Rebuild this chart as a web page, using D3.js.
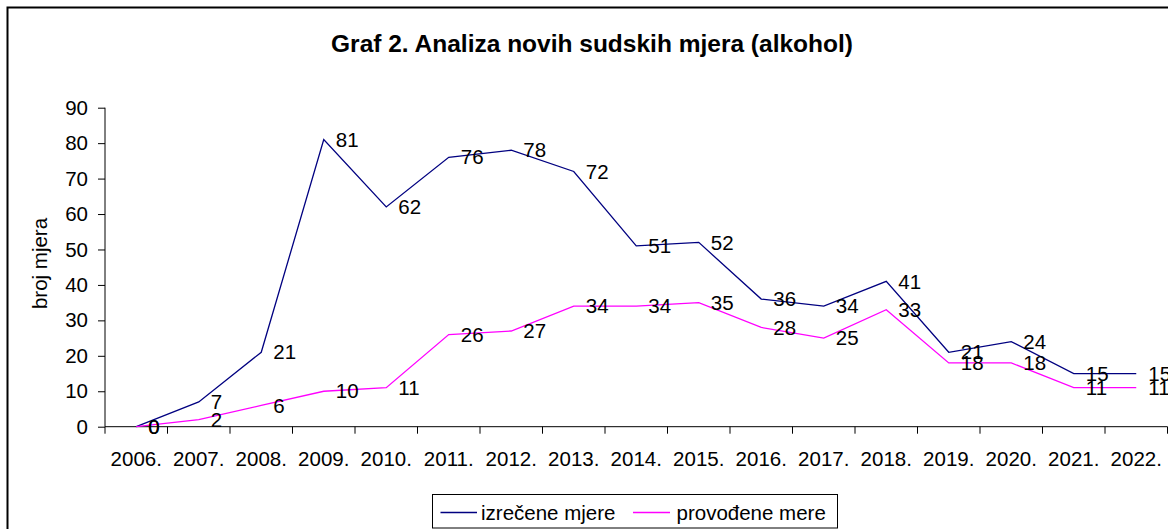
<!DOCTYPE html>
<html>
<head>
<meta charset="utf-8">
<script src="https://cdn.jsdelivr.net/npm/d3@7"></script>
<style>
  html, body { margin: 0; padding: 0; background: #fff; }
  svg { display: block; overflow: hidden; }
  text { font-family: "Liberation Sans", Arial, sans-serif; fill: #000; }
</style>
</head>
<body>
<svg id="chart" width="1168" height="529"></svg>
<script>
const years = ["2006.","2007.","2008.","2009.","2010.","2011.","2012.","2013.","2014.","2015.","2016.","2017.","2018.","2019.","2020.","2021.","2022."];
const izrecene = [0, 7, 21, 81, 62, 76, 78, 72, 51, 52, 36, 34, 41, 21, 24, 15, 15];
const provodene = [0, 2, 6, 10, 11, 26, 27, 34, 34, 35, 28, 25, 33, 18, 18, 11, 11];
const yTicks = [0, 10, 20, 30, 40, 50, 60, 70, 80, 90];
const seriesNames = ["izrečene mjere", "provođene mere"];
const seriesColors = ["#000080", "#FF00FF"];
const titleText = "Graf 2. Analiza novih sudskih mjera (alkohol)";
const yTitle = "broj mjera";

const svg = d3.select("#chart");
const FS = 20.5;

// outer border
svg.append("rect")
  .attr("x", 7.5).attr("y", 7.5)
  .attr("width", 1300).attr("height", 700)
  .attr("fill", "none").attr("stroke", "#000").attr("stroke-width", 2);

// title
svg.append("text")
  .attr("x", 592).attr("y", 51.5)
  .attr("text-anchor", "middle")
  .style("font-size", "24.5px").style("font-weight", "bold")
  .text(titleText);

const x = d3.scaleBand().domain(years).range([105, 1167.5]).padding(0);
const y = d3.scaleLinear().domain([0, 90]).range([426.7, 107.7]);

// y axis
const yAxis = d3.axisLeft(y).tickValues(yTicks).tickSize(7).tickPadding(10).tickFormat(d3.format("d"));
const gy = svg.append("g").attr("transform", "translate(105,0)").call(yAxis);
gy.select(".domain").attr("stroke", "#000").attr("d", `M0,${y(90)}V${y(0)}`);
gy.selectAll(".tick line").attr("stroke", "#000");
gy.selectAll("text").style("font-size", FS + "px").style("font-family", '"Liberation Sans", Arial, sans-serif').attr("fill", "#000");

// x axis (labels at band centres, ticks at band boundaries)
const xAxis = d3.axisBottom(x).tickSize(0).tickPadding(0);
const gx = svg.append("g").attr("transform", `translate(0,${y(0)})`).call(xAxis);
gx.select(".domain").attr("stroke", "#000").attr("d", `M${x.range()[0]},0H${x.range()[1]}`);
gx.selectAll("text").attr("y", 39).attr("dy", 0)
  .style("font-size", FS + "px").style("font-family", '"Liberation Sans", Arial, sans-serif').attr("fill", "#000");
const bounds = years.map(d => x(d)).concat([x(years[years.length - 1]) + x.bandwidth()]);
svg.append("g").selectAll("line").data(bounds).join("line")
  .attr("x1", d => d).attr("x2", d => d)
  .attr("y1", y(0)).attr("y2", y(0) + 7)
  .attr("stroke", "#000");

// y axis title
svg.append("text")
  .attr("transform", "translate(47,263.5) rotate(-90)")
  .attr("text-anchor", "middle")
  .style("font-size", FS + "px")
  .text(yTitle);

const cx = d => x(d) + x.bandwidth() / 2;
const series = [izrecene, provodene];

// lines
series.forEach((vals, i) => {
  const line = d3.line().x((v, j) => cx(years[j])).y(v => y(v));
  svg.append("path").datum(vals)
    .attr("d", line)
    .attr("fill", "none")
    .attr("stroke", seriesColors[i])
    .attr("stroke-width", 1.3);
});

// data labels
series.forEach((vals, i) => {
  svg.append("g").selectAll("text").data(vals).join("text")
    .attr("x", (v, j) => cx(years[j]) + 12)
    .attr("y", v => y(v))
    .attr("dy", "0.35em")
    .style("font-size", FS + "px")
    .text(v => v);
});

// legend
const lg = svg.append("g");
lg.append("rect").attr("x", 432.5).attr("y", 494.5).attr("width", 405).attr("height", 33.5)
  .attr("fill", "#fff").attr("stroke", "#000").attr("stroke-width", 1);
const legendItems = [{x1: 440.5, x2: 477, tx: 481}, {x1: 633, x2: 670, tx: 676.5}];
legendItems.forEach((it, i) => {
  lg.append("line").attr("x1", it.x1).attr("x2", it.x2).attr("y1", 512.5).attr("y2", 512.5)
    .attr("stroke", seriesColors[i]).attr("stroke-width", 1.3);
  lg.append("text").attr("x", it.tx).attr("y", 512.5).attr("dy", "0.35em")
    .style("font-size", FS + "px").text(seriesNames[i]);
});
</script>
</body>
</html>
